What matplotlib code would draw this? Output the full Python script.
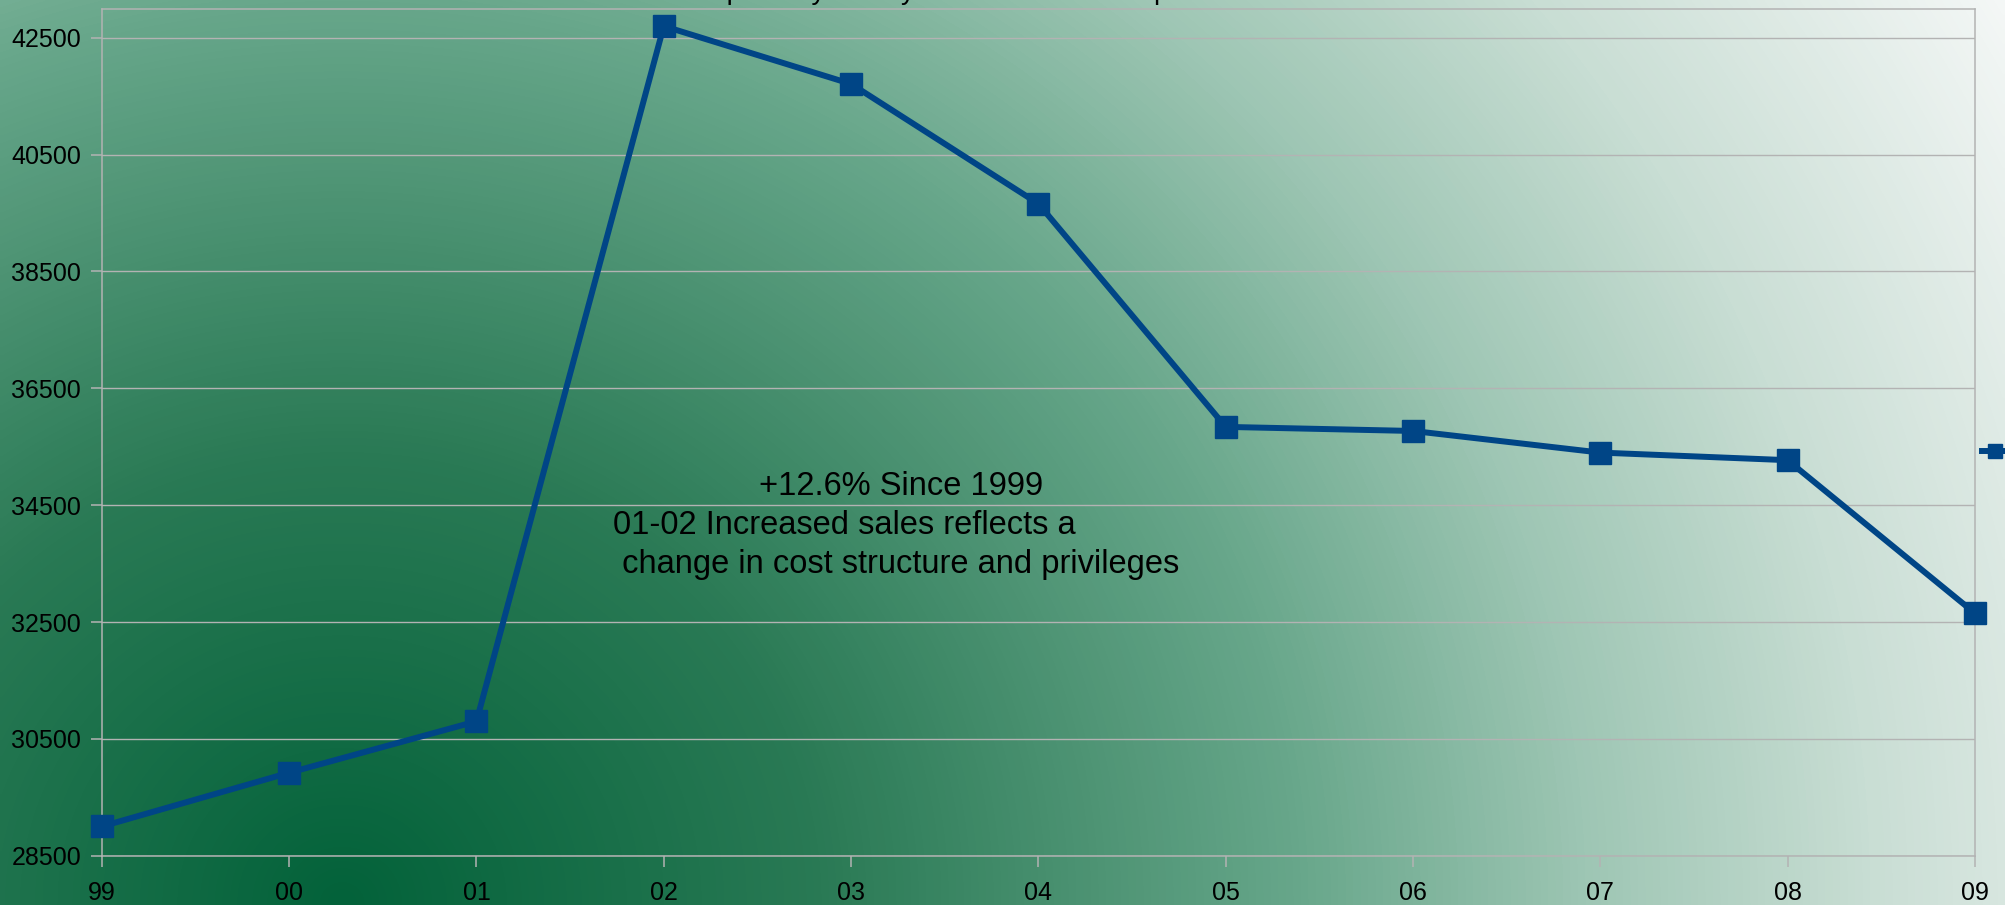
import numpy as np
import matplotlib
matplotlib.use("Agg")
import matplotlib.pyplot as plt
from matplotlib.colors import LinearSegmentedColormap

# data
years = ['99', '00', '01', '02', '03', '04', '05', '06', '07', '08', '09']
values = [29000, 29920, 30800, 42700, 41710, 39660, 35840, 35770, 35400, 35270, 32650]
yticks = [28500, 30500, 32500, 34500, 36500, 38500, 40500, 42500]
series_name = 'Season Tickets'
title = 'Group Yearly Family Season Tickets - Sports Franchise'
note_top = '+12.6% Since 1999'
note_lines = ['01-02 Increased sales reflects a', ' change in cost structure and privileges']

plt.rcParams['font.family'] = ['Liberation Sans', 'DejaVu Sans']

fig = plt.figure(figsize=(20.05, 9.05), dpi=100)

# green gradient background over the whole figure
bg = fig.add_axes([0, 0, 1, 1], zorder=-10)
bg.axis('off')
gx, gy = np.meshgrid(np.linspace(0, 1, 500), np.linspace(0, 1, 250))
t = np.sqrt(((gx - 0.17) / 0.83) ** 2 * 0.75 + gy ** 2 * 0.25)
cmap = LinearSegmentedColormap.from_list('bg', [(0, '#03623a'), (0.25, '#2a7a55'),
                                                (0.5, '#68a78b'), (0.65, '#9ec6b4'),
                                                (0.8, '#c9ded4'), (1, '#f4f7f6')])
bg.imshow(t, cmap=cmap, origin='lower', extent=[0, 1, 0, 1], aspect='auto',
          vmin=0, vmax=1, interpolation='bilinear')

ax = fig.add_axes([0.0508, 0.0545, 0.9342, 0.936])
ax.patch.set_alpha(0)
x = np.arange(len(values))
ax.plot(x, values, color='#004586', lw=4.3, marker='s', ms=16, mec='#004586',
        label=series_name, clip_on=False, zorder=3)

ax.set_xlim(0, 10)
ax.set_ylim(28500, 43000)
ax.set_xticks(x)
ax.set_xticklabels(years)
ax.set_yticks(yticks)
ax.yaxis.grid(True, color='#b3b3b3', lw=1)
ax.set_axisbelow(True)
for s in ax.spines.values():
    s.set_color('#b3b3b3')
    s.set_linewidth(1.1)
ax.tick_params(length=8, width=1.1, color='#b3b3b3', labelsize=18, pad=7)
ax.tick_params(axis='x', pad=10)

ax.legend(loc='center left', bbox_to_anchor=(1982 / 2005, 0.5), bbox_transform=fig.transFigure,
          frameon=False, borderpad=0, borderaxespad=0, handlelength=1.0, markerscale=0.65,
          fontsize=18)

# title sits mostly above the canvas, only its descenders show
fig.text(0.501, 1 + 1 / 905, title, ha='center', va='baseline', fontsize=20)
fig.text(901 / 2005, 1 - 495 / 905, note_top, ha='center', va='baseline', fontsize=23.5)
fig.text(613 / 2005, 1 - 534 / 905, note_lines[0], ha='left', va='baseline', fontsize=23.5)
fig.text(613 / 2005, 1 - 573 / 905, note_lines[1], ha='left', va='baseline', fontsize=23.5)

fig.savefig('out.png', dpi=100)
